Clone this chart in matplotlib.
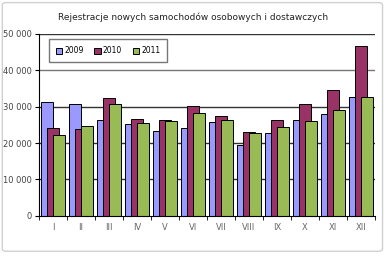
import numpy as np
import matplotlib.pyplot as plt
from matplotlib.patches import FancyBboxPatch
from matplotlib.ticker import FuncFormatter

months = ["I", "II", "III", "IV", "V", "VI", "VII", "VIII", "IX", "X", "XI", "XII"]
years = ["2009", "2010", "2011"]
v2009 = [31300, 30800, 26300, 25100, 23400, 24200, 25900, 19500, 22800, 26300, 27900, 32600]
v2010 = [24200, 23800, 32300, 26600, 26200, 30300, 27500, 23000, 26300, 30600, 34700, 46600]
v2011 = [22300, 24600, 30800, 25500, 26000, 28200, 26300, 22700, 24400, 26100, 29100, 32700]
colors = ["#9999FF", "#993366", "#99BB55"]

fig = plt.figure(figsize=(3.86, 2.59), dpi=100)
fig.patch.set_facecolor("white")

# outer chart border
fig.patches.append(FancyBboxPatch((0.006, 0.03), 0.985, 0.96, boxstyle="round,pad=0,rounding_size=0.01",
                                  transform=fig.transFigure, fill=False, edgecolor="#d0d0d0", linewidth=1))

ax = fig.add_axes([0.101, 0.167, 0.870, 0.702])
x = np.arange(len(months))
w = 0.43
off = 0.215
for i, (vals, c, lab) in enumerate(zip([v2009, v2010, v2011], colors, years)):
    ax.bar(x + (i - 1) * off, vals, width=w, color=c, edgecolor="black", linewidth=0.7,
           label=lab, zorder=3 + i)

ax.set_xlim(-0.5, 11.5)
ax.set_ylim(0, 50000)
ax.set_yticks(range(0, 50001, 10000))
ax.yaxis.set_major_formatter(FuncFormatter(lambda v, p: "0" if v == 0 else f"{int(v):,}".replace(",", " ")))
for yv in range(10000, 50001, 10000):
    ax.axhline(yv, color="#333333" if yv != 40000 else "#777777", linewidth=1.0, zorder=1)

ax.set_xticks(x)
ax.set_xticklabels(months)
ax.set_xticks(np.arange(-0.5, 12, 1), minor=True)
ax.tick_params(axis="x", which="major", length=0, labelsize=6, colors="#666666", pad=5)
ax.tick_params(axis="x", which="minor", length=3, direction="out", color="black")
ax.tick_params(axis="y", length=3, direction="out", labelsize=6, colors="black", pad=2)
ax.tick_params(axis="y", labelcolor="#444444")

for s in ["top", "right"]:
    ax.spines[s].set_visible(False)
ax.spines["left"].set_color("black")
ax.spines["bottom"].set_color("black")
ax.spines["left"].set_zorder(10)
ax.spines["bottom"].set_zorder(10)

fig.text(0.5, 0.935, "Rejestracje nowych samochodów osobowych i dostawczych",
         ha="center", va="center", fontsize=6.5, color="#222222")

leg = ax.legend(loc="upper left", bbox_to_anchor=(0.03, 0.97), ncol=3, fontsize=5.5,
                frameon=True, fancybox=False, handlelength=0.8, handleheight=0.8,
                handletextpad=0.3, columnspacing=1.4, borderpad=0.9, borderaxespad=0)
leg.get_frame().set_edgecolor("#555555")
leg.get_frame().set_linewidth(1.0)
leg.set_zorder(20)

fig.savefig("out.png", dpi=100)
